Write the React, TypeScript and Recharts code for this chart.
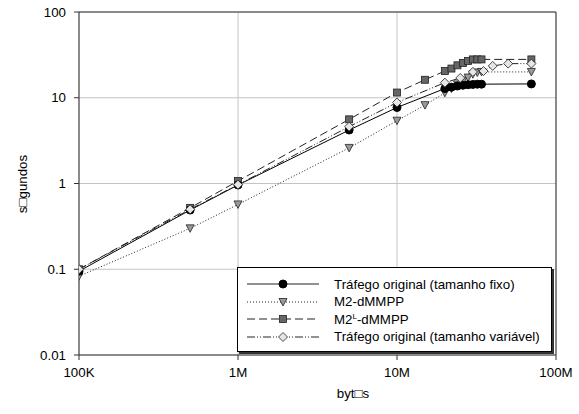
import React from "react";
import {
  CartesianGrid,
  Label,
  Line,
  LineChart,
  ReferenceLine,
  XAxis,
  YAxis,
} from "recharts";

// tick values
const xTicks = [1e5, 1e6, 1e7, 1e8];
const yTicks = [0.01, 0.1, 1, 10, 100];
const xTickNames: Record<number, string> = { 100000: "100K", 1000000: "1M", 10000000: "10M", 100000000: "100M" };

// Tráfego original (tamanho fixo)
const fixoX = [1e5, 5e5, 1e6, 5e6, 1e7, 2e7, 2.2e7, 2.4e7, 2.6e7, 2.8e7, 3e7, 3.2e7, 3.4e7, 7e7];
const fixoY = [0.095, 0.49, 0.96, 4.2, 7.7, 12.8, 13.3, 13.7, 14.0, 14.2, 14.3, 14.4, 14.4, 14.5];

// M2-dMMPP
const m2X = [1e5, 5e5, 1e6, 5e6, 1e7, 1.5e7, 2e7, 2.2e7, 2.4e7, 2.6e7, 2.8e7, 3e7, 3.2e7, 3.4e7, 7e7];
const m2Y = [0.083, 0.3, 0.57, 2.6, 5.4, 8.2, 11.4, 12.8, 14.3, 15.8, 17.2, 18.8, 19.7, 20, 20];

// M2L-dMMPP
const m2lX = [1e5, 5e5, 1e6, 5e6, 1e7, 1.5e7, 2e7, 2.2e7, 2.4e7, 2.6e7, 2.8e7, 3e7, 3.2e7, 3.4e7, 7e7];
const m2lY = [0.1, 0.52, 1.07, 5.6, 11.5, 16.2, 20.5, 21.9, 23.9, 25.5, 26.9, 28, 28, 28, 28];

// Tráfego original (tamanho variável)
const varX = [1e5, 5e5, 1e6, 5e6, 1e7, 2e7, 2.5e7, 3e7, 3.5e7, 4e7, 5e7, 7e7];
const varY = [0.1, 0.5, 0.97, 4.6, 8.8, 15, 17, 20, 20.5, 23.5, 25, 25];

const toRows = (xs: number[], ys: number[]) => xs.map((x, i) => ({ x, y: ys[i] }));

const font = "'Liberation Sans', Arial, sans-serif";
const axisColor = "#333";

const circle = (cx: number, cy: number, key?: any) => (
  <circle key={key} cx={cx} cy={cy} r={4} fill="#000" stroke="#000" />
);
const triangle = (cx: number, cy: number, key?: any) => (
  <path key={key} d={`M${cx - 4},${cy - 3.5}L${cx + 4},${cy - 3.5}L${cx},${cy + 4}Z`} fill="#9a9a9a" stroke="#222" strokeWidth={0.8} />
);
const square = (cx: number, cy: number, key?: any) => (
  <rect key={key} x={cx - 3.5} y={cy - 3.5} width={7} height={7} fill="#666" stroke="#222" strokeWidth={0.8} />
);
const diamond = (cx: number, cy: number, key?: any) => (
  <path key={key} d={`M${cx},${cy - 4.5}L${cx + 4.5},${cy}L${cx},${cy + 4.5}L${cx - 4.5},${cy}Z`} fill="#e6e6e6" stroke="#222" strokeWidth={0.8} />
);

const dotOf = (fn: typeof circle) => (p: any) => fn(p.cx, p.cy, `d${p.index}`);

const legendRows = [
  { name: "Tráfego original (tamanho fixo)", dash: undefined, marker: circle },
  { name: "M2-dMMPP", dash: "1 2", marker: triangle },
  { name: "M2L", dash: "8 4", marker: square },
  { name: "Tráfego original (tamanho variável)", dash: "8 2 1 2 1 2", marker: diamond },
];

const App: React.FC = () => {
  return (
    <div style={{ position: "absolute", left: 0, top: 0, width: 579, height: 414, background: "#fff" }}>
      <LineChart width={579} height={414} margin={{ top: 12, right: 23, bottom: 29, left: 19 }}>
        <CartesianGrid stroke="#c4c4c4" />
        <XAxis
          type="number"
          dataKey="x"
          scale="log"
          domain={[1e5, 1e8]}
          ticks={xTicks}
          tickFormatter={(v: number) => xTickNames[v]}
          height={30}
          stroke={axisColor}
          tickSize={5}
          tickMargin={8}
          tick={{ fill: "#000", fontSize: 13.3, fontFamily: font }}
          allowDataOverflow
        >
          <Label
            content={() => (
              <text x={353} y={398} textAnchor="middle" fontSize={13.3} fontFamily={font} fill="#000">
                byt□s
              </text>
            )}
          />
        </XAxis>
        <YAxis
          type="number"
          dataKey="y"
          scale="log"
          domain={[0.01, 100]}
          ticks={yTicks}
          width={60}
          stroke={axisColor}
          tickSize={5}
          tickMargin={8}
          tick={{ fill: "#000", fontSize: 13.3, fontFamily: font }}
          allowDataOverflow
        >
          <Label
            content={() => (
              <text x={27} y={184} transform="rotate(-90 27 184)" textAnchor="middle" fontSize={13.3} fontFamily={font} fill="#000">
                s□gundos
              </text>
            )}
          />
        </YAxis>
        <ReferenceLine y={100} stroke={axisColor} />
        <ReferenceLine x={1e8} stroke={axisColor} />
        <Line data={toRows(m2lX, m2lY)} dataKey="y" type="linear" stroke="#222" strokeDasharray="8 4" dot={dotOf(square)} isAnimationActive={false} />
        <Line data={toRows(m2X, m2Y)} dataKey="y" type="linear" stroke="#222" strokeDasharray="1 2" dot={dotOf(triangle)} isAnimationActive={false} />
        <Line data={toRows(fixoX, fixoY)} dataKey="y" type="linear" stroke="#000" dot={dotOf(circle)} isAnimationActive={false} />
        <Line data={toRows(varX, varY)} dataKey="y" type="linear" stroke="#222" strokeDasharray="8 2 1 2 1 2" dot={dotOf(diamond)} isAnimationActive={false} />
      </LineChart>

      <div
        style={{
          position: "absolute",
          left: 237,
          top: 267,
          width: 315,
          height: 85,
          boxSizing: "border-box",
          border: "1px solid #000",
          boxShadow: "2px 2px 0 #333",
          background: "#fff",
          fontFamily: font,
          fontSize: 13.3,
        }}
      >
        {legendRows.map((r, i) => (
          <div key={r.name} style={{ position: "absolute", left: 8, top: 7 + i * 17.5, height: 18, display: "flex", alignItems: "center" }}>
            <svg width={74} height={18}>
              <line x1={1} y1={9} x2={73} y2={9} stroke="#222" strokeDasharray={r.dash} />
              {r.marker(37, 9)}
            </svg>
            <span style={{ marginLeft: 14, whiteSpace: "nowrap" }}>
              {r.name === "M2L" ? (
                <>
                  M2<sup style={{ fontSize: 8, verticalAlign: 5 }}>L</sup>-dMMPP
                </>
              ) : (
                r.name
              )}
            </span>
          </div>
        ))}
      </div>
    </div>
  );
};

export default App;
